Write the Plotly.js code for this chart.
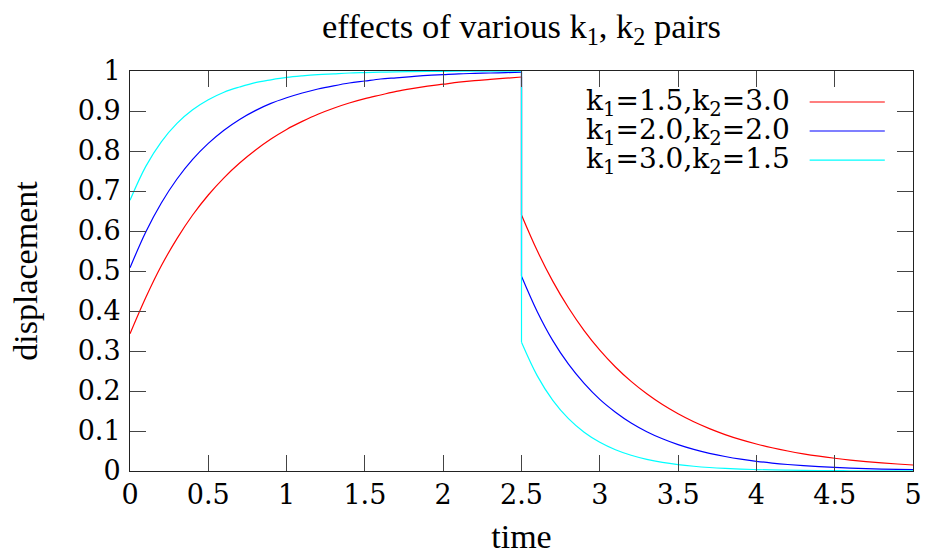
<!DOCTYPE html>
<html>
<head>
<meta charset="utf-8">
<script src="https://cdn.plot.ly/plotly-3.0.1.min.js"></script>
<style>html,body{margin:0;padding:0;background:#fff;}#chart{width:928px;height:555px;}</style>
</head>
<body>
<div id="chart"></div>
<script>
// time samples: loading phase 0..2.5, then unloading phase 2.5..5
const timeLoad = [0,0.1,0.2,0.3,0.4,0.5,0.6,0.7,0.8,0.9,1.0,1.1,1.2,1.3,1.4,1.5,1.6,1.7,1.8,1.9,2.0,2.1,2.2,2.3,2.4,2.5];
const timeUnload = [2.5,2.6,2.7,2.8,2.9,3.0,3.1,3.2,3.3,3.4,3.5,3.6,3.7,3.8,3.9,4.0,4.1,4.2,4.3,4.4,4.5,4.6,4.7,4.8,4.9,5.0];

const seriesNames = ["k<sub>1</sub>=1.5,k<sub>2</sub>=3.0", "k<sub>1</sub>=2.0,k<sub>2</sub>=2.0", "k<sub>1</sub>=3.0,k<sub>2</sub>=1.5"];
const seriesColors = ["#ff0000", "#0000ff", "#00ffff"];

const redLoad = [0.343,0.433,0.513,0.581,0.640,0.690,0.733,0.770,0.802,0.830,0.854,0.874,0.892,0.907,0.920,0.931,0.940,0.949,0.956,0.962,0.967,0.972,0.976,0.979,0.982,0.985];
const redUnload = [0.640,0.551,0.474,0.408,0.351,0.302,0.260,0.224,0.193,0.166,0.143,0.123,0.106,0.0911,0.0784,0.0675,0.0581,0.0500,0.0430,0.0370,0.0319,0.0274,0.0236,0.0203,0.0175,0.0150];

const blueLoad = [0.508,0.597,0.670,0.730,0.779,0.819,0.852,0.879,0.901,0.919,0.933,0.945,0.955,0.963,0.970,0.975,0.980,0.983,0.986,0.989,0.991,0.993,0.994,0.995,0.996,0.997];
const blueUnload = [0.487,0.399,0.326,0.267,0.219,0.179,0.147,0.120,0.0983,0.0805,0.0659,0.0540,0.0442,0.0362,0.0296,0.0243,0.0199,0.0163,0.0133,0.0109,0.0089,0.0073,0.0060,0.0049,0.0040,0.0033];

const cyanLoad = [0.677,0.761,0.823,0.869,0.903,0.928,0.947,0.960,0.971,0.978,0.984,0.988,0.991,0.993,0.995,0.996,0.997,0.998,0.9985,0.9989,0.9992,0.9994,0.9995,0.9997,0.9998,0.9998];
const cyanUnload = [0.322,0.2385,0.1767,0.1309,0.0970,0.0718,0.0532,0.0394,0.0292,0.0216,0.0160,0.0119,0.0088,0.0065,0.0048,0.0036,0.0026,0.0020,0.0015,0.0011,0.0008,0.0006,0.0004,0.0003,0.0002,0.0002];

const loads = [redLoad, blueLoad, cyanLoad];
const unloads = [redUnload, blueUnload, cyanUnload];

const xTickVals = [0,0.5,1,1.5,2,2.5,3,3.5,4,4.5,5];
const xTickText = ["0","0.5","1","1.5","2","2.5","3","3.5","4","4.5","5"];
const yTickVals = [0,0.1,0.2,0.3,0.4,0.5,0.6,0.7,0.8,0.9,1];
const yTickText = ["0","0.1","0.2","0.3","0.4","0.5","0.6","0.7","0.8","0.9","1"];

const TITLEFONT = "Liberation Serif";
const TICKFONT = "DejaVu Serif";

const traces = [];
seriesNames.forEach((name, i) => {
  const common = {type: "scatter", mode: "lines", name: name, showlegend: false, hoverinfo: "skip"};
  traces.push(Object.assign({}, common, {
    x: timeLoad, y: loads[i],
    line: {color: seriesColors[i], width: 1.2, shape: "spline", smoothing: 1}
  }));
  // vertical jump at the switch time
  traces.push(Object.assign({}, common, {
    x: [timeLoad[timeLoad.length - 1], timeUnload[0]],
    y: [loads[i][loads[i].length - 1], unloads[i][0]],
    line: {color: seriesColors[i], width: 1.2}
  }));
  traces.push(Object.assign({}, common, {
    x: timeUnload, y: unloads[i],
    line: {color: seriesColors[i], width: 1.2, shape: "spline", smoothing: 1}
  }));
});

// gnuplot-style legend: text right-aligned, sample line on the right
const legendRowY = [0.9225, 0.85, 0.777];
const annotations = seriesNames.map((name, i) => ({
  xref: "paper", yref: "paper",
  x: 0.845, y: legendRowY[i],
  xanchor: "right", yanchor: "middle",
  text: name, showarrow: false,
  font: {family: TICKFONT, size: 28, color: "#000"}
}));
const shapes = seriesColors.map((c, i) => ({
  type: "line", xref: "paper", yref: "paper",
  x0: 0.868, x1: 0.964, y0: legendRowY[i], y1: legendRowY[i],
  line: {color: c, width: 1.2}
}));

const axisCommon = {
  showgrid: false, zeroline: false,
  showline: true, linecolor: "#222", linewidth: 1,
  mirror: "ticks", ticks: "inside", ticklen: 16, tickwidth: 1, tickcolor: "#444",
  tickfont: {family: TICKFONT, size: 27, color: "#000"}
};

const layout = {
  width: 928, height: 555,
  paper_bgcolor: "#fff", plot_bgcolor: "#fff",
  margin: {l: 130, r: 15, t: 71, b: 84, pad: 0},
  font: {family: TITLEFONT},
  title: {
    text: "effects of various k<sub>1</sub>, k<sub>2</sub> pairs",
    font: {family: TITLEFONT, size: 34.5, color: "#000"},
    x: 0.5, xref: "paper", y: 0.953, yref: "container", yanchor: "middle"
  },
  xaxis: Object.assign({}, axisCommon, {
    range: [0, 5], tickvals: xTickVals, ticktext: xTickText,
    ticklabelstandoff: 0,
    title: {text: "time", font: {family: TITLEFONT, size: 34, color: "#000"}, standoff: 24}
  }),
  yaxis: Object.assign({}, axisCommon, {
    range: [0, 1], tickvals: yTickVals, ticktext: yTickText,
    ticklabelstandoff: 3,
    title: {text: "displacement", font: {family: TITLEFONT, size: 34, color: "#000"}, standoff: 29}
  }),
  annotations: annotations,
  shapes: shapes
};

Plotly.newPlot("chart", traces, layout, {displayModeBar: false, staticPlot: true});
</script>
</body>
</html>
